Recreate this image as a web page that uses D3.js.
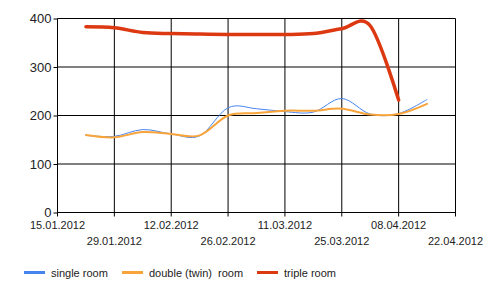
<!DOCTYPE html>
<html>
<head>
<meta charset="utf-8">
<script src="https://cdn.jsdelivr.net/npm/d3@7/dist/d3.min.js"></script>
<style>
body { margin: 0; background: #fff; }
text { font-family: Arial, "Liberation Sans", sans-serif; }
</style>
</head>
<body>
<svg id="chart" width="500" height="296"></svg>
<script>
// weekly dates of the series
const dates = ["2012-01-22","2012-01-29","2012-02-05","2012-02-12","2012-02-19","2012-02-26",
               "2012-03-04","2012-03-11","2012-03-18","2012-03-25","2012-04-01","2012-04-08","2012-04-15"];
const singleRoom = [159, 157, 171, 162, 158, 216, 214, 208, 207, 235, 203, 204, 233];
const doubleRoom = [160, 155, 166, 162, 159, 200, 205, 210, 210, 214, 202, 203, 224];
const tripleRoom = [383, 381, 371, 369, 368, 367, 367, 367, 369, 379, 385, 232];
const tickDates = ["2012-01-15","2012-01-29","2012-02-12","2012-02-26","2012-03-11","2012-03-25","2012-04-08","2012-04-22"];
const tickLabels = ["15.01.2012","29.01.2012","12.02.2012","26.02.2012","11.03.2012","25.03.2012","08.04.2012","22.04.2012"];
const yTicks = [0, 100, 200, 300, 400];
const seriesNames = ["single room", "double (twin)  room", "triple room"];

const svg = d3.select("#chart");
const parse = d3.utcParse("%Y-%m-%d");

let x = d3.scaleUtc()
    .domain([parse(tickDates[0]), parse(tickDates[tickDates.length - 1])])
    .range([57.5, 455.5]);
let y = d3.scaleLinear()
    .domain([0, 400])
    .range([212.5, 18.5]);

// grid
let grid = svg.append("g");
grid.selectAll("line.h").data(yTicks).enter().append("line")
    .attr("x1", x.range()[0]).attr("x2", x.range()[1])
    .attr("y1", d => y(d)).attr("y2", d => y(d))
    .attr("stroke", "#000").attr("stroke-width", 1);
grid.selectAll("line.v").data(tickDates).enter().append("line")
    .attr("x1", d => x(parse(d))).attr("x2", d => x(parse(d)))
    .attr("y1", y(400)).attr("y2", y(0) + 4)
    .attr("stroke", "#000").attr("stroke-width", 1);

// y axis labels
let yAxis = d3.axisLeft(y).tickValues(yTicks).tickSize(4).tickPadding(2);
svg.append("g")
    .attr("transform", "translate(" + x.range()[0] + ",0)")
    .call(yAxis)
    .call(g => g.select(".domain").remove())
    .call(g => g.selectAll("line").attr("stroke", "#000"))
    .call(g => g.selectAll("text").attr("font-size", 13).attr("fill", "#222")
        .attr("font-family", "Arial, 'Liberation Sans', sans-serif"));

// x axis labels, alternating rows
svg.append("g").selectAll("text").data(tickDates).enter().append("text")
    .attr("x", d => x(parse(d)))
    .attr("y", (d, i) => i % 2 == 0 ? 229 : 245)
    .attr("text-anchor", "middle")
    .attr("font-size", 11)
    .attr("fill", "#222")
    .text((d, i) => tickLabels[i]);

// lines
const colors = ["#4684ee", "#f8a43a", "#dc3912"];
const widths = [1, 2, 3.5];
const allSeries = [singleRoom, doubleRoom, tripleRoom];

let line = d3.line()
    .x((d, i) => x(parse(dates[i])))
    .y(d => y(d))
    .curve(d3.curveCatmullRom.alpha(0));

svg.append("g").selectAll("path").data(allSeries).enter().append("path")
    .attr("d", d => line(d))
    .attr("fill", "none")
    .attr("stroke", (d, i) => colors[i])
    .attr("stroke-width", (d, i) => widths[i])
    .attr("stroke-linecap", "round")
    .attr("stroke-linejoin", "round");

// legend
const legendX = [24, 122, 257];
let legend = svg.append("g").selectAll("g").data(seriesNames).enter().append("g")
    .attr("transform", (d, i) => "translate(" + legendX[i] + ",273)");
legend.append("line")
    .attr("x1", 0).attr("x2", 21).attr("y1", -0.5).attr("y2", -0.5)
    .attr("stroke", (d, i) => colors[i])
    .attr("stroke-width", 3);
legend.append("text")
    .attr("x", 27).attr("y", 4)
    .attr("font-size", 11)
    .attr("fill", "#222")
    .attr("xml:space", "preserve")
    .style("white-space", "pre")
    .text(d => d);
</script>
</body>
</html>
